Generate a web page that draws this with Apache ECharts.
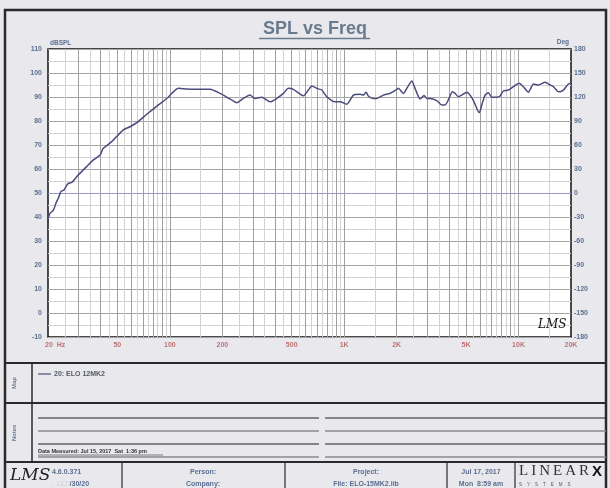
<!DOCTYPE html>
<html>
<head>
<meta charset="utf-8">
<script src="https://cdn.jsdelivr.net/npm/echarts@6/dist/echarts.min.js"></script>
<style>html,body{margin:0;padding:0;background:#e9e9ed}#c{width:610px;height:488px}</style>
</head>
<body>
<div id="c"></div>
<script>
// ---- data ----
const freqs = [20,20.5,21.5,22.2,22.9,23.7,24.7,26.1,27.4,29.8,33.3,36.4,39.8,41.5,46.4,54.1,59.1,64.6,73.7,85.9,98,102.5,112,125,143,170,194,221,242,264,288,308,337,376,410,448,478,511,583,623,652,696,744,794,887,947,1034,1129,1233,1288,1335,1376,1470,1537,1678,1833,2003,2046,2186,2286,2442,2550,2724,2872,2976,3108,3396,3628,3792,3960,4176,4326,4518,4726,5050,5276,5560,5808,5964,6156,6432,6718,7026,7504,7838,8188,8746,9342,10076,10666,11392,12172,13002,14208,15172,15850,16936,18090,19322,20000];
const spl = [39.0,41.5,42.9,45.7,47.8,50.6,51.3,54.0,54.4,57.5,61.0,63.8,65.8,68.6,71.4,76.3,77.6,79.3,82.8,86.7,89.9,91.5,93.6,93.3,93.2,93.2,91.5,89.2,87.6,89.4,90.8,89.4,89.9,88.0,89.4,91.5,93.6,93.2,90.5,92.9,94.6,93.6,92.9,90.1,88.0,88.0,87.0,90.8,91.1,90.8,92.0,90.4,89.4,89.4,90.8,91.5,93.2,93.6,91.5,93.6,96.7,93.6,89.2,90.6,89.4,89.4,88.5,86.7,86.7,88.8,92.2,91.5,90.1,90.8,92.0,90.8,88.0,84.6,83.5,86.7,90.8,91.8,89.9,89.9,90.4,92.5,92.9,94.3,95.7,94.3,92.0,95.4,95.0,96.1,95.0,94.3,92.2,92.9,95.4,95.7];
const seriesName = '20: ELO 12MK2';
const xTickValues = [20,50,100,200,500,1000,2000,5000,10000,20000];
const xTickLabels = ['20  Hz','50','100','200','500','1K','2K','5K','10K','20K'];
const decades = [10,100,1000,10000];
const majorMult = [2,3,4,5,6,7,8,9,10];
const minorMult = [1.5,2.5,3.5,4.5,5.5,6.5,7.5,8.5,9.5];
const phaseZeroDb = 50;

// ---- build grid lines ----
const majorF = [], minorF = [];
decades.forEach(d => {
  majorMult.forEach(m => { const v = d*m; if (v > 20 && v < 20000 && majorF.indexOf(v) < 0) majorF.push(v); });
  minorMult.forEach(m => { const v = d*m; if (v > 20 && v < 20000) minorF.push(v); });
});

const ff = 'Liberation Sans, Arial, sans-serif';
const slate = '#5b6f90';
const chart = echarts.init(document.getElementById('c'), null, {renderer:'canvas'});

const graphics = [
  {type:'rect', shape:{x:5,y:10,width:601,height:482}, style:{fill:'none', stroke:'#2a2a2a', lineWidth:2.5}, z:100},
  {type:'line', shape:{x1:5,y1:363,x2:606,y2:363}, style:{stroke:'#2a2a2a', lineWidth:2}, z:100},
  {type:'line', shape:{x1:5,y1:403,x2:606,y2:403}, style:{stroke:'#2a2a2a', lineWidth:2}, z:100},
  {type:'line', shape:{x1:5,y1:462,x2:606,y2:462}, style:{stroke:'#2a2a2a', lineWidth:2}, z:100},
  {type:'line', shape:{x1:32,y1:363,x2:32,y2:462}, style:{stroke:'#2a2a2a', lineWidth:1.5}, z:100},
  {type:'line', shape:{x1:122,y1:462,x2:122,y2:490}, style:{stroke:'#2a2a2a', lineWidth:1.2}, z:100},
  {type:'line', shape:{x1:285,y1:462,x2:285,y2:490}, style:{stroke:'#2a2a2a', lineWidth:1.2}, z:100},
  {type:'line', shape:{x1:447,y1:462,x2:447,y2:490}, style:{stroke:'#2a2a2a', lineWidth:1.2}, z:100},
  {type:'line', shape:{x1:515,y1:462,x2:515,y2:490}, style:{stroke:'#2a2a2a', lineWidth:1.2}, z:100},
  // title underline
  {type:'line', shape:{x1:259,y1:38.5,x2:370,y2:38.5}, style:{stroke:'#6b7b8e', lineWidth:1.6}, z:100},
  // side labels
  {type:'text', x:14, y:383, rotation:Math.PI/2, style:{text:'Map', fill:'#6b7b8e', font:'bold 6px '+ff, align:'center', verticalAlign:'middle'}, z:100},
  {type:'text', x:14, y:433, rotation:Math.PI/2, style:{text:'Notes', fill:'#6b7b8e', font:'bold 6px '+ff, align:'center', verticalAlign:'middle'}, z:100},
  // legend
  {type:'line', shape:{x1:38,y1:374,x2:51,y2:374}, style:{stroke:'#4b4b7d', lineWidth:1.2}, z:100},
  {type:'text', x:54, y:374, style:{text:seriesName, fill:'#555a66', font:'bold 7px '+ff, verticalAlign:'middle'}, z:100},
  // notes lines
  {type:'line', shape:{x1:38,y1:418,x2:319,y2:418}, style:{stroke:'#222', lineWidth:1.2}, z:100},
  {type:'line', shape:{x1:325,y1:418,x2:606,y2:418}, style:{stroke:'#222', lineWidth:1.2}, z:100},
  {type:'line', shape:{x1:38,y1:431,x2:319,y2:431}, style:{stroke:'#8a8a8a', lineWidth:1.5}, z:100},
  {type:'line', shape:{x1:325,y1:431,x2:606,y2:431}, style:{stroke:'#8a8a8a', lineWidth:1.5}, z:100},
  {type:'line', shape:{x1:38,y1:444,x2:319,y2:444}, style:{stroke:'#222', lineWidth:1.2}, z:100},
  {type:'line', shape:{x1:325,y1:444,x2:606,y2:444}, style:{stroke:'#222', lineWidth:1.2}, z:100},
  {type:'line', shape:{x1:38,y1:457,x2:319,y2:457}, style:{stroke:'#8a8a8a', lineWidth:1.5}, z:100},
  {type:'line', shape:{x1:325,y1:457,x2:606,y2:457}, style:{stroke:'#8a8a8a', lineWidth:1.5}, z:100},
  {type:'text', x:38, y:454, style:{text:'Data Measured: Jul 15, 2017  Sat  1:36 pm', fill:'#333', font:'bold 5.5px '+ff, verticalAlign:'bottom'}, z:100},
  {type:'line', shape:{x1:38,y1:455,x2:163,y2:455}, style:{stroke:'#333', lineWidth:0.6}, z:100},
  // footer
  {type:'text', x:10, y:476, style:{text:'LMS', fill:'#222', font:'italic 17px DejaVu Serif, serif', verticalAlign:'middle'}, z:100},
  {type:'text', x:52, y:472, style:{text:'4.6.0.371', fill:slate, font:'bold 7px '+ff, verticalAlign:'middle'}, z:100},
  {type:'text', x:52, y:484, style:{text:'{g|,  \u25A1\u25A1\'} /30/20', fill:slate, font:'bold 7px '+ff, verticalAlign:'middle', rich:{g:{fill:'#bbbbcc', font:'7px '+ff}}}, z:100},
  {type:'text', x:203, y:472, style:{text:'Person:', fill:slate, font:'bold 7px '+ff, align:'center', verticalAlign:'middle'}, z:100},
  {type:'text', x:203, y:484, style:{text:'Company:', fill:slate, font:'bold 7px '+ff, align:'center', verticalAlign:'middle'}, z:100},
  {type:'text', x:366, y:472, style:{text:'Project:', fill:slate, font:'bold 7px '+ff, align:'center', verticalAlign:'middle'}, z:100},
  {type:'text', x:366, y:484, style:{text:'File: ELO-15MK2.lib', fill:slate, font:'bold 7px '+ff, align:'center', verticalAlign:'middle'}, z:100},
  {type:'text', x:481, y:472, style:{text:'Jul 17, 2017', fill:slate, font:'bold 7px '+ff, align:'center', verticalAlign:'middle'}, z:100},
  {type:'text', x:481, y:484, style:{text:'Mon  8:59 am', fill:slate, font:'bold 7px '+ff, align:'center', verticalAlign:'middle'}, z:100},
  {type:'text', x:519, y:479, style:{text:'L\u2009I\u2009N\u2009E\u2009A\u2009R', fill:'#333', font:'15px Liberation Serif, serif', verticalAlign:'bottom'}, z:100},
  {type:'text', x:592, y:479, style:{text:'X', fill:'#111', font:'bold 15px '+ff, verticalAlign:'bottom'}, z:100},
  {type:'text', x:519, y:484.5, style:{text:'S    Y    S    T    E    M    S', fill:'#555', font:'4.5px '+ff, verticalAlign:'middle'}, z:100},
  // plot signature
  {type:'text', x:538, y:325, style:{text:'LMS', fill:'#111', font:'italic 12px DejaVu Serif, serif', verticalAlign:'middle'}, z:100}
];

const option = {
  backgroundColor:'#e9e9ed',
  animation:false,
  title:{text:'SPL vs Freq', left:258, top:15, textStyle:{fontSize:18, fontWeight:'bold', color:'#6b7b8e', fontFamily:ff}},
  grid:{left:48, top:49, width:523, height:288, show:true, backgroundColor:'#ffffff', borderColor:'#111', borderWidth:1.5},
  xAxis:{type:'log', logBase:10, min:20, max:20000, axisLabel:{show:false}, axisTick:{show:false}, axisLine:{show:false}, splitLine:{show:false}},
  yAxis:[
    {type:'value', min:-10, max:110, interval:10, position:'left',
     name:'dBSPL', nameLocation:'end', nameGap:2, nameTextStyle:{color:slate, fontSize:6.5, fontWeight:'bold', fontFamily:ff, align:'left', verticalAlign:'bottom', padding:[0,0,0,2]},
     axisLabel:{color:slate, fontSize:7, fontWeight:'bold', fontFamily:ff, margin:6},
     axisTick:{show:false}, axisLine:{show:false},
     splitLine:{lineStyle:{color:'#a6a6a6', width:1}},
     minorTick:{show:false, splitNumber:2}, minorSplitLine:{show:true, lineStyle:{color:'#d2d2d2', width:1}}},
    {type:'value', min:-180, max:180, interval:30, position:'right',
     name:'Deg', nameLocation:'end', nameGap:2, nameTextStyle:{color:slate, fontSize:6.5, fontWeight:'bold', fontFamily:ff, align:'right', verticalAlign:'bottom', padding:[0,2,0,0]},
     axisLabel:{color:slate, fontSize:7, fontWeight:'bold', fontFamily:ff, margin:3},
     axisTick:{show:false}, axisLine:{show:false}, splitLine:{show:false}}
  ],
  graphic:graphics,
  series:[
    {type:'line', data:[], silent:true, z:1,
     markLine:{silent:true, symbol:['none','none'], label:{show:false}, animation:false,
       lineStyle:{color:'#d2d2d2', type:'solid', width:1},
       data:minorF.map(v => ({xAxis:v}))}},
    {type:'line', data:[], silent:true, z:1,
     markLine:{silent:true, symbol:['none','none'], label:{show:false}, animation:false,
       lineStyle:{color:'#a0a0a0', type:'solid', width:1},
       data:majorF.map(v => ({xAxis:v}))}},
    {type:'line', data:[], silent:true, z:2,
     markLine:{silent:true, symbol:['none','none'], label:{show:false}, animation:false,
       lineStyle:{color:'#9a9ac8', type:'solid', width:1},
       data:[{yAxis:phaseZeroDb}]}},
    {type:'line', name:seriesName, data:freqs.map((f,i) => [f, spl[i]]), showSymbol:false, smooth:0.2, z:5,
     lineStyle:{color:'#4b4b7d', width:1.5}},
    {type:'scatter', silent:true, clip:false, symbolSize:1, z:6,
     itemStyle:{color:'rgba(0,0,0,0)'},
     data:xTickValues.map((v,i) => i === 0 ? {value:[v,-10], label:{align:'left', offset:[-3,0]}} : {value:[v,-10]}),
     label:{show:true, position:'bottom', distance:4, formatter:p => xTickLabels[p.dataIndex], color:'#b05252', fontSize:7, fontWeight:'bold', fontFamily:ff}}
  ]
};
chart.setOption(option);
</script>
</body>
</html>
